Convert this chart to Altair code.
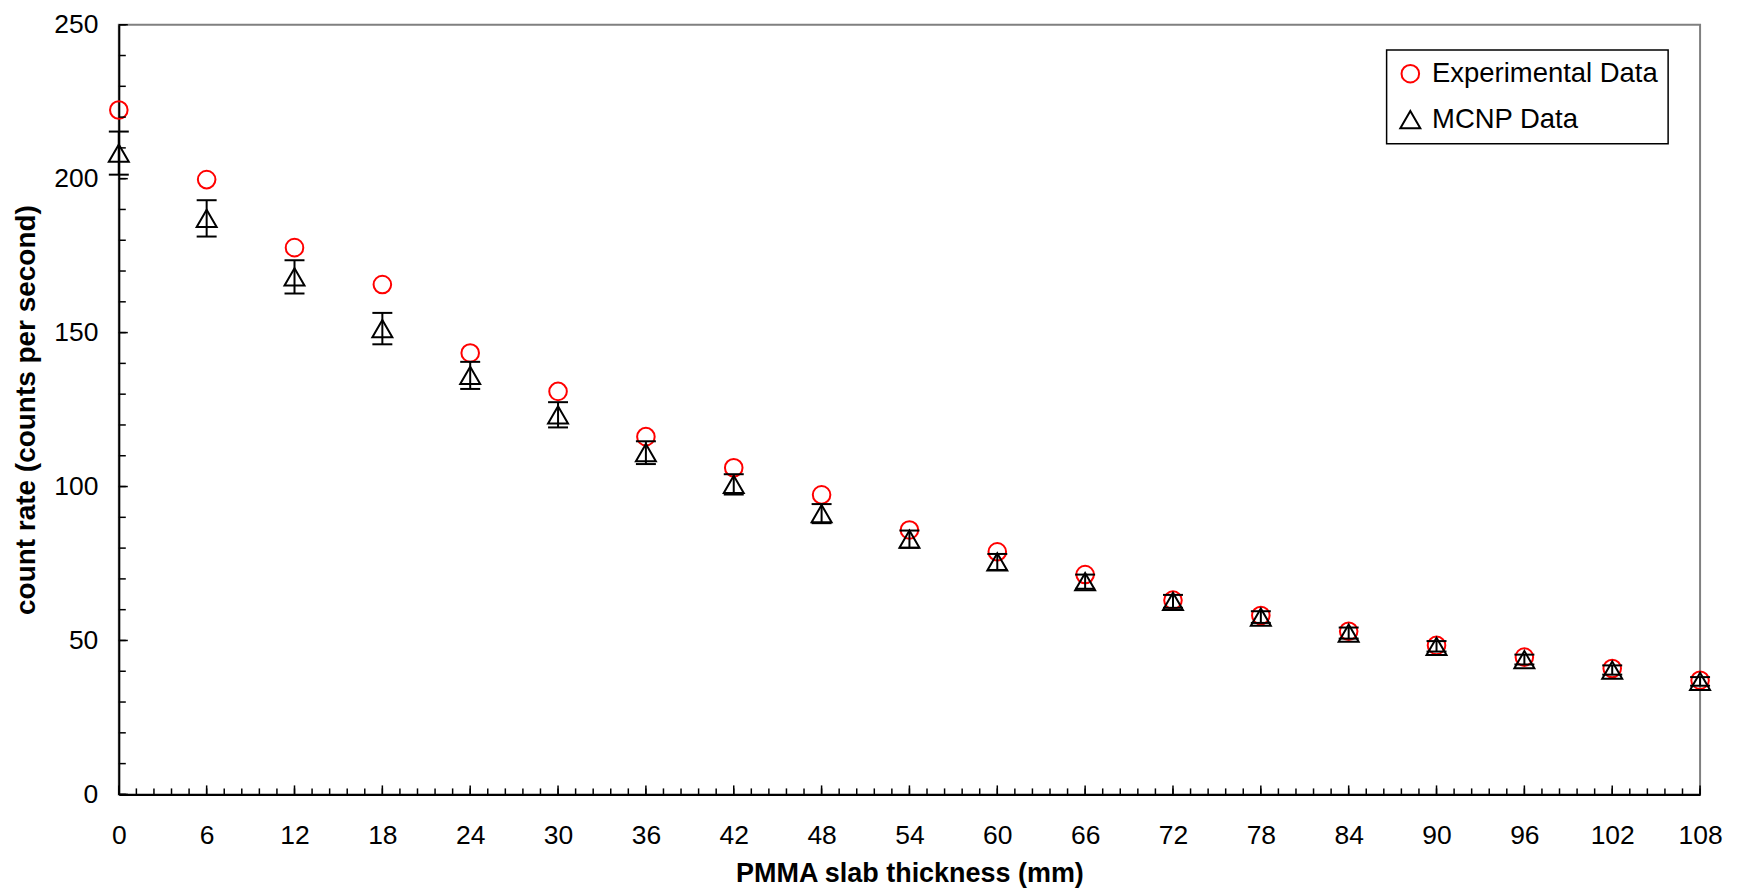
import altair as alt
import pandas as pd

# ---- data ----
thickness = [0, 6, 12, 18, 24, 30, 36, 42, 48, 54, 60, 66, 72, 78, 84, 90, 96, 102, 108]
experimental = [222.3, 199.7, 177.6, 165.6, 143.4, 130.9, 116.2, 106.1, 97.3, 85.9,
                78.8, 71.4, 63.1, 58.1, 53.0, 48.4, 44.6, 40.9, 37.1]
mcnp = [208.3, 187.1, 168.1, 151.3, 136.1, 123.3, 111.0, 100.7, 91.2, 82.9,
        75.5, 69.1, 62.7, 57.6, 52.4, 48.1, 43.8, 40.4, 36.7]
mcnp_err = [7.0, 5.9, 5.4, 5.1, 4.4, 4.1, 3.7, 3.3, 3.1, 2.8,
            2.6, 2.3, 2.1, 1.9, 1.8, 1.7, 1.6, 1.5, 1.4]
series_names = ["Experimental Data", "MCNP Data"]

x_major_ticks = [0, 6, 12, 18, 24, 30, 36, 42, 48, 54, 60, 66, 72, 78, 84, 90, 96, 102, 108]
x_minor_ticks = [round(i * 1.2, 1) for i in range(91)]
y_major_ticks = [0, 50, 100, 150, 200, 250]
y_minor_ticks = list(range(0, 251, 10))

W, H = 1584, 771
FONT = "Liberation Sans"

pts = pd.DataFrame({
    "thickness": thickness + thickness,
    "rate": experimental + mcnp,
    "series": [series_names[0]] * len(thickness) + [series_names[1]] * len(thickness),
})
err = pd.DataFrame({
    "thickness": thickness,
    "lo": [m - e for m, e in zip(mcnp, mcnp_err)],
    "hi": [m + e for m, e in zip(mcnp, mcnp_err)],
})

x_scale = alt.Scale(domain=[0, 108], nice=False, zero=False)
y_scale = alt.Scale(domain=[0, 250], nice=False)

x_axis = alt.Axis(
    values=x_major_ticks, title="PMMA slab thickness (mm)", ticks=False, tickSize=0,
    grid=False, domainColor="black", domainWidth=2, labelPadding=28,
    labelFont=FONT, labelFontSize=26.5, labelColor="black", labelFlush=False,
    labelOverlap=False, titleFont=FONT, titleFontSize=27, titleFontWeight="bold",
    titleColor="black", titleX=W / 2, titleY=87, titleBaseline="alphabetic",
    titleAlign="center",
)
y_axis = alt.Axis(
    values=y_major_ticks, title="count rate (counts per second)", ticks=False, tickSize=0,
    grid=False, domainColor="black", domainWidth=2, labelPadding=21,
    labelFont=FONT, labelFontSize=26.5, labelColor="black", labelFlush=False,
    labelOverlap=False, titleFont=FONT, titleFontSize=28, titleFontWeight="bold",
    titleColor="black", titleX=-78, titleY=H / 2, titleAngle=-90,
    titleBaseline="bottom", titleAlign="center",
)


def X(field):
    return alt.X(field, scale=x_scale, axis=x_axis)


def Y(field):
    return alt.Y(field, scale=y_scale, axis=y_axis)


points = alt.Chart(pts).mark_point(filled=False, strokeWidth=2, opacity=1).encode(
    x=X("thickness:Q"),
    y=Y("rate:Q"),
    shape=alt.Shape("series:N", scale=alt.Scale(domain=series_names, range=["circle", "triangle-up"]),
                    legend=alt.Legend(title=None)),
    color=alt.Color("series:N", scale=alt.Scale(domain=series_names, range=["#ff0000", "#000000"]),
                    legend=alt.Legend(title=None)),
    size=alt.Size("series:N", scale=alt.Scale(domain=series_names, range=[310, 400]),
                  legend=alt.Legend(title=None)),
)

err_line = alt.Chart(err).mark_rule(color="black", strokeWidth=2).encode(
    x=X("thickness:Q"), y=Y("lo:Q"), y2="hi:Q",
)
cap_lo = alt.Chart(err).mark_tick(orient="horizontal", size=20, thickness=2, color="black", opacity=1).encode(
    x=X("thickness:Q"), y=Y("lo:Q"),
)
cap_hi = alt.Chart(err).mark_tick(orient="horizontal", size=20, thickness=2, color="black", opacity=1).encode(
    x=X("thickness:Q"), y=Y("hi:Q"),
)

ytick_minor = alt.Chart(pd.DataFrame({"v": y_minor_ticks})).mark_rule(color="black", strokeWidth=1.5).encode(
    y=Y("v:Q"), x=alt.value(0), x2=alt.value(7))
ytick_major = alt.Chart(pd.DataFrame({"v": y_major_ticks})).mark_rule(color="black", strokeWidth=1.5).encode(
    y=Y("v:Q"), x=alt.value(0), x2=alt.value(9))
xtick_minor = alt.Chart(pd.DataFrame({"v": x_minor_ticks})).mark_rule(color="black", strokeWidth=1.5).encode(
    x=X("v:Q"), y=alt.value(H), y2=alt.value(H - 6))
xtick_major = alt.Chart(pd.DataFrame({"v": x_major_ticks})).mark_rule(color="black", strokeWidth=1.5).encode(
    x=X("v:Q"), y=alt.value(H), y2=alt.value(H - 9))

chart = alt.layer(
    points, ytick_minor, ytick_major, xtick_minor, xtick_major, err_line, cap_lo, cap_hi
).properties(
    width=W, height=H,
    autosize=alt.AutoSizeParams(type="none"),
    padding={"left": 111, "top": 16, "right": 40, "bottom": 93},
    background="white",
).configure_view(
    stroke="#808080", strokeWidth=2,
).configure_legend(
    orient="none", legendX=1270, legendY=25.3,
    strokeColor="black", strokeWidth=1.5, fillColor="white",
    padding=10, rowPadding=17, labelFont=FONT, labelFontSize=27.5, labelColor="black",
    labelLimit=500, labelOffset=8, symbolStrokeWidth=2, cornerRadius=0,
)

chart.save("out.html", embed_options={"renderer": "svg", "actions": False})
